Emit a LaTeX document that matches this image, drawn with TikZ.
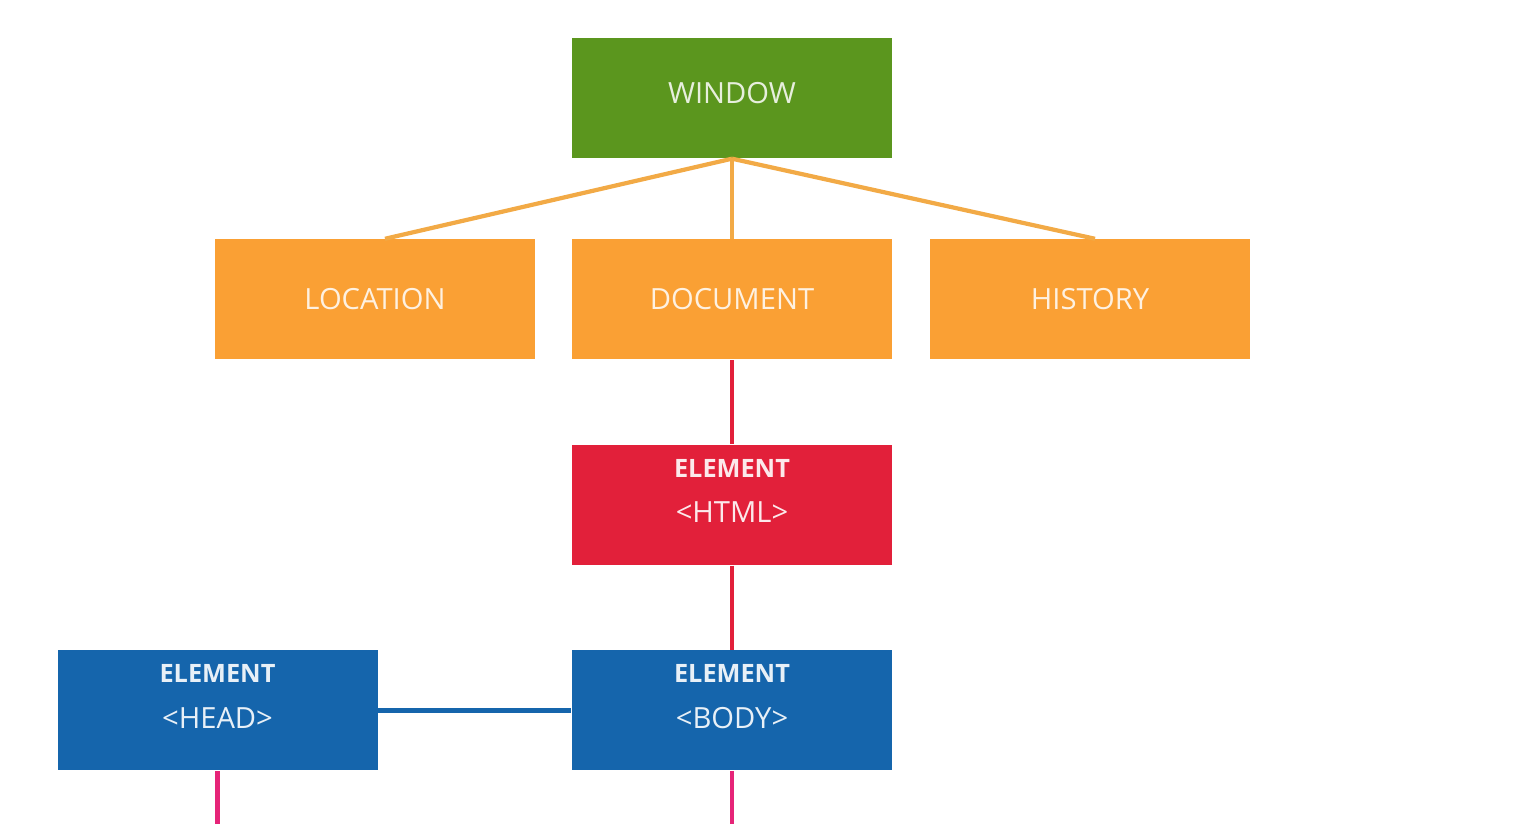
\documentclass[tikz,border=0pt]{standalone}
\usepackage{fontspec}
\setmainfont{Open Sans}
\definecolor{wingreen}{RGB}{91,150,30}
\definecolor{boxorange}{RGB}{250,160,52}
\definecolor{lineorange}{RGB}{242,170,70}
\definecolor{elred}{RGB}{226,32,58}
\definecolor{elblue}{RGB}{21,101,172}
\definecolor{linepink}{RGB}{230,36,120}
\begin{document}
\begin{tikzpicture}[auto]
        \tikzstyle{obj}=[rectangle, minimum width=3.2cm, minimum height=1.2cm, inner sep=0pt, font=\fontsize{8.3}{10}\selectfont];
        \tikzstyle{elem}=[obj, fill=elblue];
        \tikzstyle{eltext}=[align=center, text=white!90!elblue, font=\fontsize{8.3}{13}\selectfont];
        \useasboundingbox (0,0) rectangle (15.4,-8.24);

        \node[obj, fill=wingreen, text=white!85!wingreen, text depth=0.1cm] (window) at (7.32,-0.98) {WINDOW};
        \node[obj, fill=boxorange, text=white!85!boxorange, below of=window, node distance=2.015cm] (document) {DOCUMENT};
        \node[obj, fill=boxorange, text=white!85!boxorange, left of=document, node distance=3.57cm] (location) {LOCATION};
        \node[obj, fill=boxorange, text=white!85!boxorange, right of=document, node distance=3.58cm] (history) {HISTORY};
        \node[obj, fill=elred, below of=document, node distance=2.055cm] (html) {};
        \node[elem, below of=html, node distance=2.055cm] (body) {};
        \node[elem, left of=body, node distance=5.145cm] (head) {};

        \node[eltext, text=white!90!elred] (htmltext) at ([yshift=0.14cm]html.center) {\textbf{\fontsize{7.2}{9}\selectfont ELEMENT}\\<HTML>};
        \node[eltext] (bodytext) at ([yshift=0.14cm]body.center) {\textbf{\fontsize{7.2}{9}\selectfont ELEMENT}\\<BODY>};
        \node[eltext] (headtext) at ([yshift=0.14cm]head.center) {\textbf{\fontsize{7.2}{9}\selectfont ELEMENT}\\<HEAD>};

        \coordinate (headend) at (head.south |- 0,-8.24);
        \coordinate (bodyend) at (body.south |- 0,-8.24);

        \draw[lineorange, line width=1.2pt] (window.south) -- ([xshift=0.1cm]location.north);
        \draw[lineorange, line width=1.2pt] (window.south) -- (document.north);
        \draw[lineorange, line width=1.2pt] (window.south) -- ([xshift=0.05cm]history.north);
        \draw[elred, line width=1.2pt] (document) -- (html);
        \draw[elred, line width=1.2pt] (html) -- (body);
        \draw[elblue, line width=1.2pt] (head) -- (body);
        \draw[linepink, line width=1.2pt] (head) -- (headend);
        \draw[linepink, line width=1.2pt] (body) -- (bodyend);
    \end{tikzpicture}
\end{document}
